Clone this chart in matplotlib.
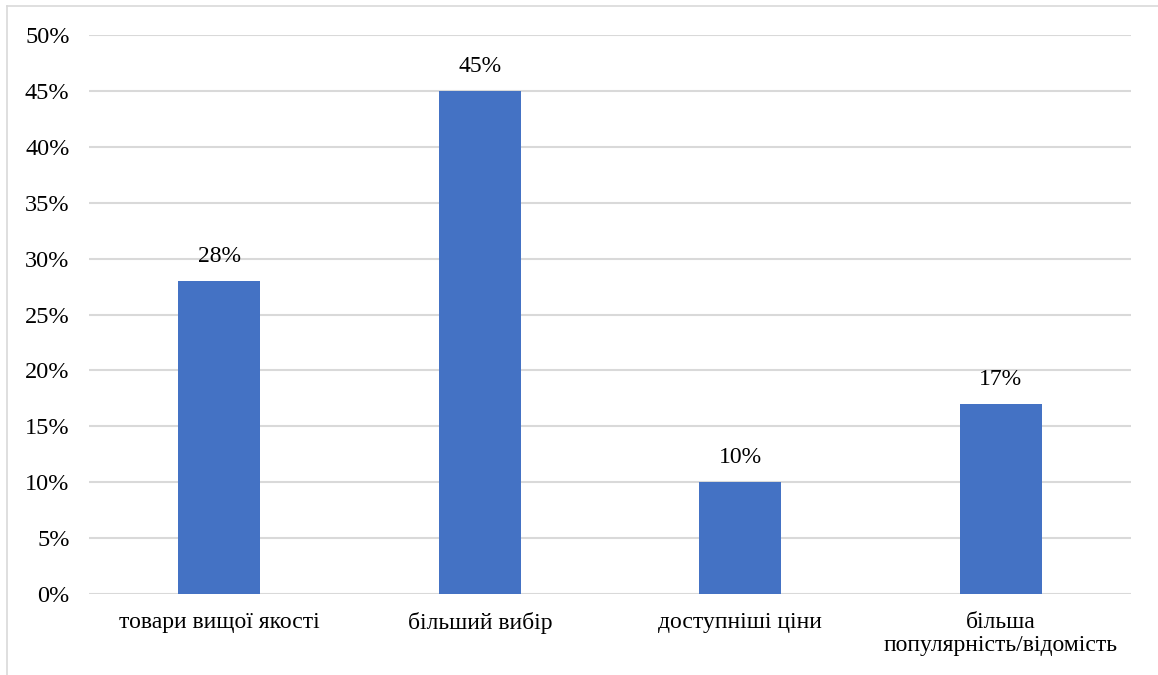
import matplotlib.pyplot as plt
from matplotlib.lines import Line2D

# Причини вибору (частка респондентів, %)
categories = ["товари вищої якості", "більший вибір", "доступніші ціни",
              "більша\nпопулярність/відомість"]
values = [28, 45, 10, 17]
y_ticks = [0, 5, 10, 15, 20, 25, 30, 35, 40, 45, 50]

plt.rcParams['font.family'] = ['Liberation Serif', 'DejaVu Serif']

fig = plt.figure(figsize=(11.58, 6.75), dpi=100)
ax = fig.add_axes([0.0769, 0.12, 0.8998, 0.828])

x = range(len(categories))
bars = ax.bar(x, values, width=0.315, color="#4472C4", zorder=2)

for rect, v in zip(bars, values):
    ax.annotate(f"{v}%", (rect.get_x() + rect.get_width() / 2, v),
                xytext=(0, 10), textcoords="offset points",
                ha="center", va="bottom", fontsize=17, color="#000000", zorder=4)

ax.set_xlim(-0.5, len(categories) - 0.5)
ax.set_ylim(0, 50)
ax.set_yticks(y_ticks)
ax.set_yticklabels([f"{t}%" for t in y_ticks], fontsize=17.5)
ax.set_xticks(list(x))
ax.set_xticklabels(categories, fontsize=17, linespacing=1.15)
ax.tick_params(axis="both", length=0, colors="#000000")
ax.tick_params(axis="y", pad=14)
ax.tick_params(axis="x", pad=13)

ax.grid(axis="y", color="#d9d9d9", linewidth=1.5, zorder=0)
ax.set_axisbelow(True)
for s in ax.spines.values():
    s.set_visible(False)

# рамка навколо діаграми
fig.add_artist(Line2D([7 / 1158, 7 / 1158], [0, 1 - 6 / 675],
                      transform=fig.transFigure, color="#d9d9d9", linewidth=1.2))
fig.add_artist(Line2D([7 / 1158, 1], [1 - 6 / 675, 1 - 6 / 675],
                      transform=fig.transFigure, color="#d9d9d9", linewidth=1.2))

fig.savefig("out.png", dpi=100)
